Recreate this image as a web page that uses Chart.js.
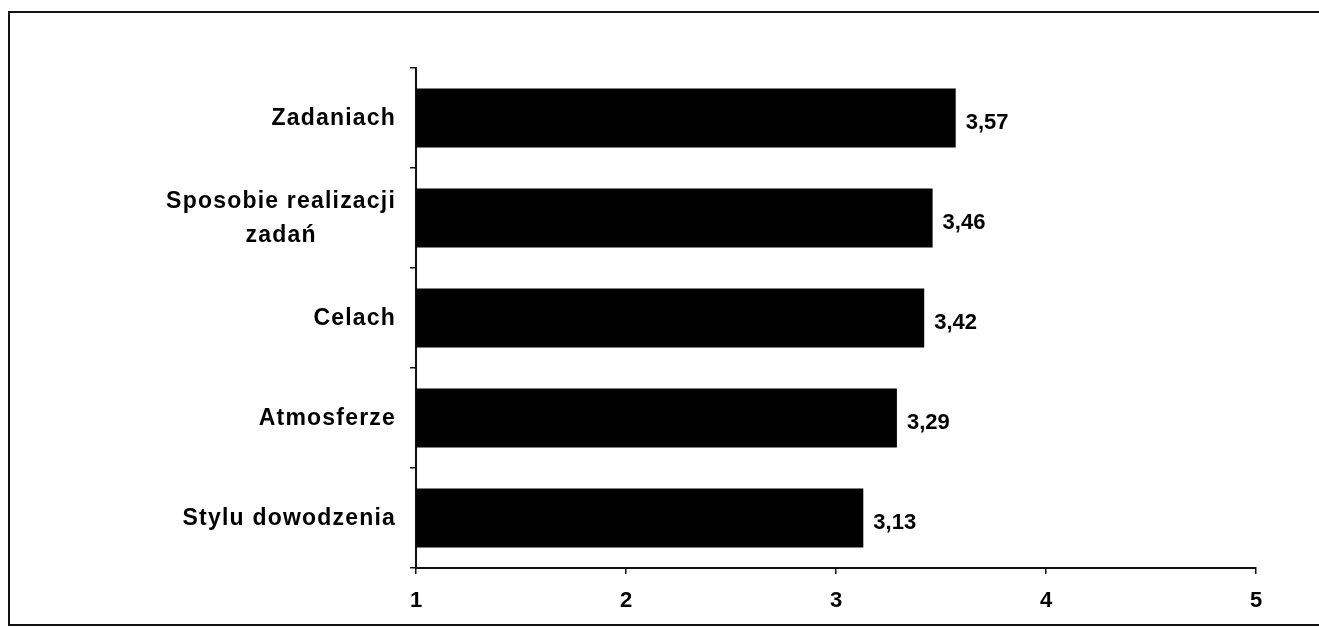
<!DOCTYPE html>
<html lang="pl">
<head>
<meta charset="utf-8">
<title>Oceny</title>
<script src="https://cdn.jsdelivr.net/npm/chart.js@4.4.1/dist/chart.umd.min.js"></script>
<style>
  html, body { margin: 0; padding: 0; background: #ffffff; }
  #wrap { width: 1319px; height: 628px; position: relative; }
  canvas { display: block; }
</style>
</head>
<body>
<div id="wrap"><canvas id="chart" width="1319" height="628"></canvas></div>
<script>
// Categories (each entry is one or more text lines) and their mean scores
const categories = [
  ['Zadaniach'],
  ['Sposobie realizacji', 'zadań'],
  ['Celach'],
  ['Atmosferze'],
  ['Stylu dowodzenia']
];
const scores = [3.57, 3.46, 3.42, 3.29, 3.13];
const scaleTicks = [1, 2, 3, 4, 5];

const FONT = '"Liberation Sans", Arial, sans-serif';

// Page frame behind the chart (open on the right side)
const framePlugin = {
  id: 'frame',
  beforeDraw(chart) {
    const ctx = chart.ctx;
    ctx.save();
    ctx.strokeStyle = '#111';
    ctx.lineWidth = 2;
    ctx.beginPath();
    ctx.moveTo(1325, 12);
    ctx.lineTo(9, 12);
    ctx.lineTo(9, 625);
    ctx.lineTo(1325, 625);
    ctx.stroke();
    ctx.restore();
  }
};

// Category names left of the axis: block right-aligned, lines centred within the block
const categoryLabels = {
  id: 'categoryLabels',
  afterDraw(chart) {
    const ctx = chart.ctx;
    const yScale = chart.scales.y;
    const right = yScale.right - 20;
    ctx.save();
    ctx.font = 'bold 23px ' + FONT;
    ctx.fillStyle = '#000';
    ctx.textBaseline = 'middle';
    ctx.textAlign = 'center';
    if ('letterSpacing' in ctx) ctx.letterSpacing = '1.2px';
    const lineH = 34;
    categories.forEach((lines, i) => {
      const yc = yScale.getPixelForTick(i) + 1;
      const maxW = Math.max(...lines.map(l => ctx.measureText(l).width));
      const xc = right - maxW / 2;
      const y0 = yc - (lines.length - 1) * lineH / 2;
      lines.forEach((l, k) => ctx.fillText(l, xc, y0 + k * lineH));
    });
    ctx.restore();
  }
};

// Value labels to the right of each bar
const valueLabels = {
  id: 'valueLabels',
  afterDatasetsDraw(chart) {
    const ctx = chart.ctx;
    const meta = chart.getDatasetMeta(0);
    ctx.save();
    ctx.font = 'bold 22px ' + FONT;
    ctx.fillStyle = '#000';
    ctx.textBaseline = 'middle';
    ctx.textAlign = 'left';
    meta.data.forEach((bar, i) => {
      const txt = scores[i].toFixed(2).replace('.', ',');
      ctx.fillText(txt, bar.x + 10, bar.y + 5);
    });
    ctx.restore();
  }
};

new Chart(document.getElementById('chart'), {
  type: 'bar',
  data: {
    labels: categories,
    datasets: [{
      data: scores,
      backgroundColor: '#000',
      borderWidth: 0,
      barPercentage: 0.59,
      categoryPercentage: 1
    }]
  },
  options: {
    indexAxis: 'y',
    responsive: false,
    animation: false,
    events: [],
    layout: { padding: { top: 68, right: 63, left: 0, bottom: 0 } },
    plugins: {
      legend: { display: false },
      tooltip: { enabled: false },
      title: { display: false }
    },
    scales: {
      x: {
        type: 'linear',
        min: scaleTicks[0],
        max: scaleTicks[scaleTicks.length - 1],
        afterBuildTicks(scale) {
          scale.ticks = scaleTicks.map(v => ({ value: v }));
        },
        afterFit(scale) { scale.height = 60; },
        border: { display: true, color: '#111', width: 2 },
        grid: {
          display: true,
          drawOnChartArea: false,
          drawTicks: true,
          tickLength: 6,
          color: '#111',
          lineWidth: 1.5
        },
        ticks: {
          color: '#000',
          padding: 14,
          maxRotation: 0,
          font: { family: FONT, size: 22, weight: 'bold' },
          callback: v => String(v)
        }
      },
      y: {
        type: 'category',
        afterFit(scale) { scale.width = 416; },
        border: { display: true, color: '#111', width: 2 },
        grid: {
          display: true,
          offset: true,
          drawOnChartArea: false,
          drawTicks: true,
          tickLength: 6,
          color: '#111',
          lineWidth: 1.5
        },
        ticks: { display: false }
      }
    }
  },
  plugins: [framePlugin, categoryLabels, valueLabels]
});
</script>
</body>
</html>
